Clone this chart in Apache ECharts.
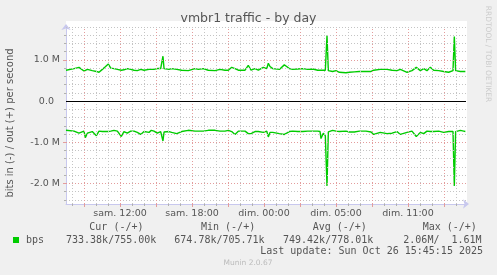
<!DOCTYPE html>
<html><head><meta charset="utf-8">
<script src="https://cdn.jsdelivr.net/npm/echarts@6/dist/echarts.min.js"></script>
<style>html,body{margin:0;padding:0;background:#f0f0f0}#c{width:497px;height:275px}</style>
</head><body><div id="c"></div>
<script>
// time in hours since Saturday 00:00 (summer time, so 30 = "dim. 05:00" winter time)
const hours = [7.5,8.17,8.58,9.0,9.11,9.28,9.69,10.03,10.25,10.53,10.73,11.03,11.23,11.5,11.78,12.11,12.33,12.61,12.89,13.17,13.44,13.73,14.0,14.42,14.61,14.83,15.11,15.39,15.5,15.58,15.67,16.08,16.31,16.73,17.14,17.69,18.25,18.53,18.94,19.36,19.92,20.33,20.75,21.03,21.31,21.58,21.86,22.42,22.69,22.92,23.25,23.53,23.94,24.23,24.36,24.5,24.73,25.28,25.69,25.89,26.11,26.39,26.81,27.23,27.64,28.06,28.48,28.67,28.75,28.94,29.11,29.25,29.36,29.72,30.0,30.28,30.83,31.11,31.53,31.94,32.5,32.92,33.14,33.69,34.25,34.67,35.08,35.36,35.92,36.33,36.69,37.03,37.31,37.58,37.86,38.14,38.56,38.97,39.39,39.75,39.86,39.97,40.36,40.64,40.78];
// out (+), in Mbit/s
const outValues = [0.75,0.79,0.82,0.73,0.74,0.77,0.74,0.72,0.70,0.77,0.82,0.90,0.80,0.79,0.77,0.75,0.76,0.79,0.77,0.75,0.74,0.77,0.75,0.77,0.77,0.77,0.79,0.79,0.79,1.09,0.79,0.77,0.79,0.77,0.75,0.74,0.79,0.77,0.79,0.75,0.74,0.77,0.75,0.75,0.82,0.79,0.75,0.75,0.87,0.75,0.79,0.75,0.82,0.79,0.92,0.84,0.79,0.77,0.88,0.84,0.79,0.77,0.78,0.79,0.77,0.78,0.75,0.75,0.75,0.75,0.75,1.59,0.74,0.72,0.74,0.70,0.69,0.70,0.71,0.72,0.72,0.72,0.75,0.77,0.77,0.75,0.74,0.77,0.70,0.74,0.82,0.74,0.79,0.74,0.82,0.75,0.74,0.72,0.70,0.74,1.57,0.74,0.72,0.72,0.72];
// in (-), Mbit/s, drawn negative
const inValues = [-0.71,-0.73,-0.78,-0.73,-0.89,-0.78,-0.74,-0.84,-0.73,-0.74,-0.74,-0.74,-0.73,-0.71,-0.73,-0.86,-0.74,-0.78,-0.73,-0.73,-0.76,-0.81,-0.74,-0.76,-0.71,-0.73,-0.78,-0.74,-0.74,-0.97,-0.75,-0.74,-0.76,-0.79,-0.74,-0.71,-0.73,-0.73,-0.73,-0.71,-0.71,-0.73,-0.73,-0.71,-0.74,-0.81,-0.73,-0.73,-0.79,-0.79,-0.74,-0.74,-0.76,-0.73,-0.87,-0.76,-0.76,-0.79,-0.81,-0.78,-0.74,-0.73,-0.74,-0.74,-0.73,-0.73,-0.73,-0.74,-0.91,-0.78,-0.84,-2.06,-0.75,-0.71,-0.73,-0.74,-0.73,-0.75,-0.75,-0.73,-0.73,-0.75,-0.81,-0.76,-0.79,-0.78,-0.74,-0.81,-0.76,-0.73,-0.86,-0.76,-0.79,-0.73,-0.74,-0.74,-0.73,-0.76,-0.74,-0.74,-2.06,-0.74,-0.71,-0.73,-0.74];

const xTickHours = [12,18,24,30,36];
const xTickLabels = ['sam. 12:00','sam. 18:00','dim. 00:00','dim. 05:00','dim. 11:00'];
const yTickValues = [-2,-1,0,1];
const yTickLabels = ['-2.0 M','-1.0 M','0.0  ','1.0 M'];
const minorHours = [8,9,10,11,12,13,14,15,16,17,18,19,20,21,22,23,24,25,26,27,28,29,30,31,32,33,34,35,36,37,38,39,40];
const majorHours = [9,12,15,18,21,24,27,30,33,36,39];
const minorLevels = [-2.4,-2.2,-2.0,-1.8,-1.6,-1.4,-1.2,-1.0,-0.8,-0.6,-0.4,-0.2,0.2,0.4,0.6,0.8,1.0,1.2,1.4,1.6,1.8];
const majorLevels = [-2,-1,1];

const chartTitle = 'vmbr1 traffic - by day';
const yTitle = 'bits in (-) / out (+) per second';
const sideText = 'RRDTOOL / TOBI OETIKER';
const seriesName = 'bps';
const legendHeads = ['Cur (-/+)','Min (-/+)','Avg (-/+)','Max (-/+)'];
const legendValues = ['733.38k/755.00k','674.78k/705.71k','749.42k/778.01k','2.06M/  1.61M'];
const lastUpdate = 'Last update: Sun Oct 26 15:45:15 2025';
const footer = 'Munin 2.0.67';

const GREEN = '#00cc00';
const AXIS = '#c8c8ee';
const MINOR = '#c4c4c4';
const MAJOR = '#e39c9c';
const TXT = '#555555';
const XMIN = 7.5, XMAX = 7.5 + 400/12, YMIN = -2.5, YMAX = 1.8;

const chart = echarts.init(document.getElementById('c'), null, {renderer:'canvas'});

const gridLines = [];
minorHours.forEach(h => { if (majorHours.indexOf(h) < 0) gridLines.push({xAxis:h, lineStyle:{color:MINOR, type:[1,2], width:1}}); });
minorLevels.forEach(v => { if (majorLevels.indexOf(v) < 0 && v !== 0) gridLines.push({yAxis:v, lineStyle:{color:MINOR, type:[1,2], width:1}}); });
majorHours.forEach(h => gridLines.push({xAxis:h, lineStyle:{color:MAJOR, type:[1,2], width:1}}));
majorLevels.forEach(v => gridLines.push({yAxis:v, lineStyle:{color:MAJOR, type:[1,2], width:1}}));
gridLines.push({yAxis:0, lineStyle:{color:'#000000', type:'solid', width:1}});

const mono = '10px "DejaVu Sans Mono"';
const graphics = [
  {type:'rect', z:-10, shape:{x:66, y:21, width:401, height:184}, style:{fill:'#ffffff'}},
  {type:'text', x:248.5, y:19, style:{text:chartTitle, font:'12.5px "DejaVu Sans"', fill:TXT, align:'center', verticalAlign:'middle'}},
  {type:'text', x:10, y:123, rotation:Math.PI/2, style:{text:yTitle, font:'10px "DejaVu Sans"', fill:TXT, align:'center', verticalAlign:'middle'}},
  {type:'text', x:488, y:54, rotation:-Math.PI/2, style:{text:sideText, font:'7.5px "DejaVu Sans"', fill:'#cccccc', align:'center', verticalAlign:'middle'}},
  {type:'rect', shape:{x:13, y:237, width:6, height:6}, style:{fill:GREEN}},
  {type:'text', x:26, y:240, style:{text:seriesName, font:mono, fill:TXT, align:'left', verticalAlign:'middle'}},
  {type:'text', x:483, y:251.5, style:{text:lastUpdate, font:mono, fill:TXT, align:'right', verticalAlign:'middle'}},
  {type:'text', x:248, y:263.5, style:{text:footer, font:'7.5px "DejaVu Sans"', fill:'#bbbbbb', align:'center', verticalAlign:'middle'}}
];
const headX = [89.3, 201, 312.7, 422.7];
const valX = [66, 174.3, 283, 403.3];
legendHeads.forEach((t,i) => graphics.push({type:'text', x:headX[i], y:227.5, style:{text:t, font:mono, fill:TXT, align:'left', verticalAlign:'middle'}}));
legendValues.forEach((t,i) => graphics.push({type:'text', x:valX[i], y:240, style:{text:t, font:mono, fill:TXT, align:'left', verticalAlign:'middle'}}));

const axisLineCommon = {show:true, onZero:false, lineStyle:{color:AXIS, width:1}, symbol:['none','arrow'], symbolSize:[7,6], symbolOffset:[0,3]};

chart.setOption({
  animation:false,
  backgroundColor:'#f0f0f0',
  grid:{left:66, right:31, top:27, bottom:71},
  xAxis:[
    {type:'value', min:XMIN, max:XMAX, axisLine:axisLineCommon,
     axisTick:{show:true, customValues:minorHours, length:2, lineStyle:{color:'#b0b0b0'}},
     axisLabel:{show:true, customValues:xTickHours, formatter:v => xTickLabels[xTickHours.indexOf(Math.round(v))] || '', color:TXT, fontFamily:'DejaVu Sans', fontSize:9.5, margin:5},
     splitLine:{show:false}},
    {type:'value', min:XMIN, max:XMAX, position:'bottom', offset:0, axisLine:{show:false, onZero:false},
     axisTick:{show:true, customValues:majorHours, length:3, lineStyle:{color:MAJOR}},
     axisLabel:{show:false}, splitLine:{show:false}}
  ],
  yAxis:[
    {type:'value', min:YMIN, max:YMAX, axisLine:axisLineCommon,
     axisTick:{show:true, customValues:minorLevels, length:2, lineStyle:{color:'#b0b0b0'}},
     axisLabel:{show:true, customValues:yTickValues, formatter:v => yTickLabels[yTickValues.indexOf(Math.round(v))] || '', color:TXT, fontFamily:'DejaVu Sans', fontSize:9.5, margin:6},
     splitLine:{show:false}},
    {type:'value', min:YMIN, max:YMAX, position:'left', offset:0, axisLine:{show:false, onZero:false},
     axisTick:{show:true, customValues:majorLevels, length:3, lineStyle:{color:MAJOR}},
     axisLabel:{show:false}, splitLine:{show:false}}
  ],
  graphic:graphics,
  series:[
    {type:'line', name:'grid', data:[], z:1, silent:true,
     markLine:{silent:true, symbol:['none','none'], label:{show:false}, animation:false, emphasis:{disabled:true}, data:gridLines}},
    {type:'line', name:'out', z:3, showSymbol:false, silent:true, lineStyle:{color:GREEN, width:1.4}, itemStyle:{color:GREEN},
     data:hours.map((h,i) => [h, outValues[i]])},
    {type:'line', name:'in', z:3, showSymbol:false, silent:true, lineStyle:{color:GREEN, width:1.4}, itemStyle:{color:GREEN},
     data:hours.map((h,i) => [h, inValues[i]])}
  ]
});
</script>
</body></html>
